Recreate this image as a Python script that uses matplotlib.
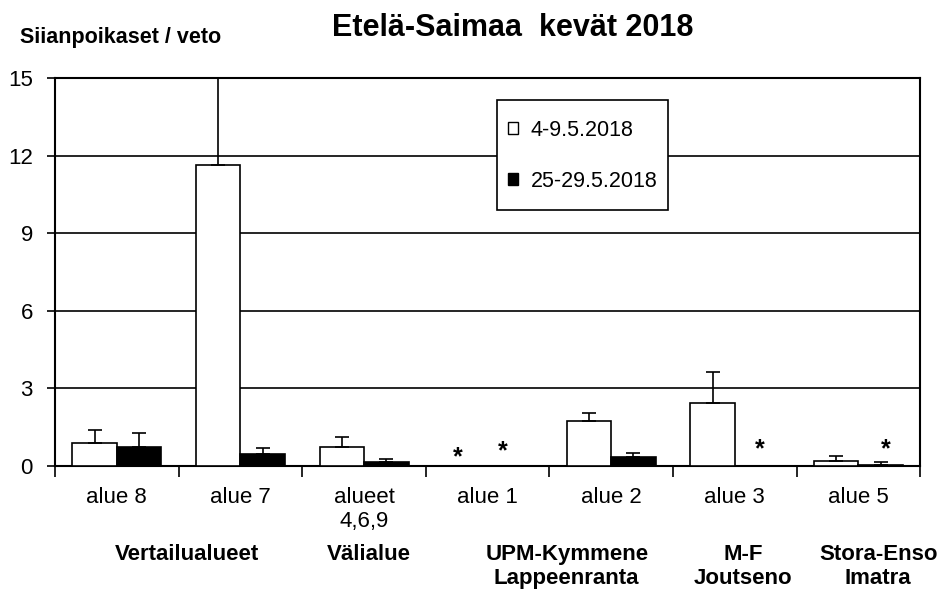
import matplotlib.pyplot as plt
import numpy as np
from matplotlib.patches import Patch, Rectangle
from matplotlib.transforms import blended_transform_factory

plt.rcParams['font.family'] = ['Liberation Sans', 'DejaVu Sans']

areas = ['alue 8', 'alue 7', 'alueet\n4,6,9', 'alue 1', 'alue 2', 'alue 3', 'alue 5']
early = [0.90, 11.63, 0.75, 0.0, 1.74, 2.45, 0.21]
early_err = [0.49, 3.9, 0.38, 0.0, 0.30, 1.17, 0.16]
late = [0.75, 0.45, 0.17, 0.0, 0.34, 0.0, 0.04]
late_err = [0.51, 0.23, 0.09, 0.0, 0.16, 0.0, 0.10]
series = ['4-9.5.2018', '25-29.5.2018']

# asterisks = no catch (x in category units, y in data units)
stars_x = [2.755, 3.12, 5.20, 6.22]
stars_y = [0.35, 0.56, 0.64, 0.65]

groups = ['Vertailualueet', 'Välialue', 'UPM-Kymmene\nLappeenranta', 'M-F\nJoutseno', 'Stora-Enso\nImatra']
groups_x = [0.57, 2.04, 3.64, 5.07, 6.16]

fig = plt.figure(figsize=(9.39, 5.89), dpi=100)
ax = fig.add_axes([0.0586, 0.2088, 0.9214, 0.6588])

ind = np.arange(len(areas))
w = 0.36
ax.bar(ind - w / 2, early, w, color='white', edgecolor='black', linewidth=1.2, zorder=3)
ax.bar(ind + w / 2, late, w, color='black', edgecolor='black', linewidth=1.2, zorder=3)
ax.errorbar(ind - w / 2, early, yerr=[np.zeros(len(early)), early_err], fmt='none',
            ecolor='black', elinewidth=1.2, capsize=5, capthick=1.2, zorder=4)
ax.errorbar(ind + w / 2, late, yerr=[np.zeros(len(late)), late_err], fmt='none',
            ecolor='black', elinewidth=1.2, capsize=5, capthick=1.2, zorder=4)

for sx, sy in zip(stars_x, stars_y):
    ax.text(sx, sy, '*', ha='center', va='center', fontsize=18, fontweight='bold')

ax.set_xlim(-0.5, len(areas) - 0.5)
ax.set_ylim(0, 15)
ax.set_yticks([0, 3, 6, 9, 12, 15])
ax.tick_params(axis='y', labelsize=16, direction='out', length=6, width=1.2, pad=10)
ax.set_xticks(np.arange(-0.5, len(areas), 1.0))
ax.set_xticklabels([])
ax.tick_params(axis='x', direction='out', length=8, width=1.2)
ax.yaxis.grid(True, color='black', linewidth=1.2)
ax.set_axisbelow(True)
for s in ax.spines.values():
    s.set_linewidth(1.5)

trans = blended_transform_factory(ax.transData, fig.transFigure)
for i, name in enumerate(areas):
    ax.text(i, 0.173, name, transform=trans, ha='center', va='top', fontsize=16,
            linespacing=1.2)
for gx, g in zip(groups_x, groups):
    ax.text(gx, 0.076, g, transform=trans, ha='center', va='top', fontsize=16,
            fontweight='bold', linespacing=1.2)

# legend box drawn separately so the padding can differ per side
ax.add_patch(Rectangle((0.511, 0.66), 0.1977, 0.283, transform=ax.transAxes,
                       facecolor='white', edgecolor='black', linewidth=1.2, zorder=5))
handles = [Patch(facecolor='white', edgecolor='black'), Patch(facecolor='black', edgecolor='black')]
leg = ax.legend(handles, series, loc='center', bbox_to_anchor=(0.610, 0.80),
                fontsize=15.5, frameon=False, handlelength=0.45, handleheight=0.45,
                handletextpad=0.6, labelspacing=1.4, borderpad=0, borderaxespad=0)
leg.set_zorder(6)

fig.text(0.546, 0.953, 'Etelä-Saimaa  kevät 2018', ha='center', va='center', fontsize=22,
         fontweight='bold')
fig.text(0.021, 0.937, 'Siianpoikaset / veto', ha='left', va='center', fontsize=15.5,
         fontweight='bold')

fig.savefig('out.png', dpi=100)
